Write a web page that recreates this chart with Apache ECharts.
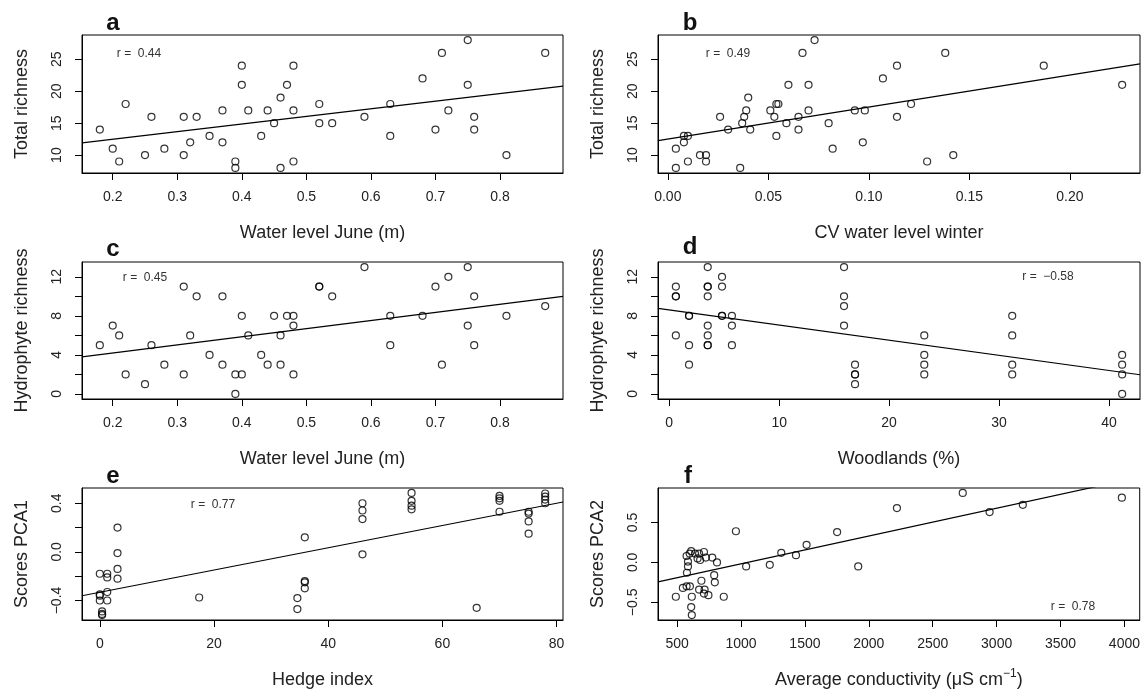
<!DOCTYPE html>
<html><head><meta charset="utf-8">
<script src="https://cdn.jsdelivr.net/npm/echarts@6/dist/echarts.min.js"></script>
<style>html,body{margin:0;padding:0;background:#fff}#c{width:1143px;height:693px}</style>
</head><body><div id="c"></div>
<script>
// ---- Panel a: Water level June vs Total richness
const waterLevelA = [0.18,0.20,0.21,0.22,0.25,0.26,0.28,0.31,0.31,0.32,0.33,0.35,0.37,0.37,0.39,0.39,0.40,0.40,0.41,0.43,0.44,0.45,0.46,0.46,0.47,0.48,0.48,0.48,0.52,0.52,0.54,0.59,0.63,0.63,0.68,0.70,0.71,0.72,0.75,0.75,0.76,0.76,0.81,0.87];
const totalRichA  = [14,11,9,18,10,16,11,16,10,12,16,13,17,12,9,8,24,21,17,13,17,15,19,8,21,24,17,9,18,15,15,16,18,13,22,14,26,17,28,21,16,14,10,26];
// ---- Panel b: CV water level winter vs Total richness
const cvWinterB   = [0.004,0.004,0.008,0.010,0.008,0.010,0.016,0.019,0.019,0.026,0.030,0.036,0.037,0.038,0.039,0.040,0.041,0.051,0.053,0.054,0.054,0.055,0.059,0.060,0.065,0.065,0.067,0.070,0.070,0.073,0.080,0.082,0.093,0.098,0.097,0.107,0.114,0.114,0.121,0.129,0.138,0.142,0.187,0.226];
const totalRichB  = [11,8,13,13,12,9,10,10,9,16,14,8,15,16,17,19,14,17,16,13,18,18,15,21,14,16,26,21,17,28,15,11,17,17,12,22,24,16,18,9,26,10,24,21];
// ---- Panel c: Water level June vs Hydrophyte richness
const waterLevelC = [0.18,0.20,0.21,0.22,0.25,0.26,0.28,0.31,0.31,0.32,0.33,0.35,0.37,0.37,0.39,0.39,0.40,0.40,0.41,0.43,0.44,0.45,0.46,0.46,0.47,0.48,0.48,0.48,0.52,0.52,0.54,0.59,0.63,0.63,0.68,0.70,0.71,0.72,0.75,0.75,0.76,0.76,0.81,0.87];
const hydroRichC  = [5,7,6,2,1,5,3,11,2,6,10,4,10,3,2,0,2,8,6,4,3,8,6,3,8,8,7,2,11,11,10,13,8,5,8,11,3,12,13,7,10,5,8,9];
// ---- Panel d: Woodlands (%) vs Hydrophyte richness
const woodlandsD  = [0.6,0.6,0.6,0.6, 1.8,1.8,1.8,1.8, 3.5,3.5,3.5,3.5,3.5,3.5,3.5,3.5, 4.8,4.8,4.8,4.8, 5.7,5.7,5.7, 15.9,15.9,15.9,15.9, 16.9,16.9,16.9,16.9, 23.2,23.2,23.2,23.2, 31.2,31.2,31.2,31.2, 41.2,41.2,41.2,41.2];
const hydroRichD  = [11,10,10,6, 8,8,5,3, 13,11,11,10,7,6,5,5, 12,11,8,8, 8,7,5, 13,10,9,7, 3,2,2,1, 6,4,3,2, 8,6,3,2, 4,3,2,0];
// ---- Panel e: Hedge index vs Scores PCA1
const hedgeE      = [0,0,0,0, 0.4,0.4,0.4, 1.3,1.3,1.3,1.3, 3.1,3.1,3.1,3.1, 17.4, 34.6,34.6, 35.9,35.9,35.9,35.9, 46,46,46,46, 54.6,54.6,54.6,54.6, 66, 70,70,70,70, 75.1,75.1,75.1,75.1, 78,78,78,78];
const pca1E       = [-0.18,-0.35,-0.36,-0.40, -0.49,-0.51,-0.52, -0.18,-0.21,-0.33,-0.40, 0.20,-0.01,-0.14,-0.22, -0.375, -0.38,-0.47, 0.12,-0.24,-0.25,-0.30, 0.40,0.34,0.27,-0.02, 0.485,0.42,0.38,0.35, -0.46, 0.46,0.44,0.42,0.33, 0.33,0.315,0.25,0.15, 0.48,0.455,0.43,0.40];
// ---- Panel f: Average conductivity vs Scores PCA2
const conductF    = [490,545,574,600,574,585,585,577,598,610,640,660,680,672,710,725,775,812,690,790,795,672,715,710,745,615,610,615,865,960,1040,1225,1315,1430,1513,1752,1917,2220,2735,2945,3205,3980];
const pca2F       = [-0.43,-0.32,-0.30,-0.30,0.08,0.01,-0.05,-0.13,0.11,0.14,0.11,0.05,0.03,0.11,0.13,0.06,0.06,0.0,-0.23,-0.16,-0.25,-0.34,-0.34,-0.39,-0.41,-0.43,-0.56,-0.66,-0.43,0.39,-0.05,-0.03,0.12,0.09,0.22,0.38,-0.05,0.68,0.87,0.63,0.72,0.81];

// fitted lines (intercept, slope) and r values as printed
const fitIntercepts = [10.08, 12.5, 2.535, 8.60, -0.332, -0.366];
const fitSlopes     = [11.95, 50.2, 8.32, -0.1549, 0.00915, 0.000348];
const rLabels       = ['r =  0.44','r =  0.49','r =  0.45','r =  \u22120.58','r =  0.77','r =  0.78'];
const panelLetters  = ['a','b','c','d','e','f'];

// tick values
const xTicksA = [0.2,0.3,0.4,0.5,0.6,0.7,0.8];
const xTicksB = [0,0.05,0.10,0.15,0.20];
const xTicksD = [0,10,20,30,40];
const xTicksE = [0,20,40,60,80];
const xTicksF = [500,1000,1500,2000,2500,3000,3500,4000];
const yTicksRich = [10,15,20,25];
const yTicksHydro = [0,2,4,6,8,10,12];
const yLabelsHydro = [0,4,8,12];
const yTicksE = [-0.4,-0.2,0,0.2,0.4];
const yLabelsE = [-0.4,0,0.4];
const yTicksF = [-0.5,0,0.5];

const xNames = ['Water level June (m)','CV water level winter','Water level June (m)','Woodlands (%)','Hedge index','Average conductivity (\u03bcS cm{sup|\u22121})'];
const yNames = ['Total richness','Total richness','Hydrophyte richness','Hydrophyte richness','Scores PCA1','Scores PCA2'];

const FONT = 'Liberation Sans, Arial, Helvetica, sans-serif';
const fmtMinus = d => v => { const s = v.toFixed(d); return s.replace('-', '\u2212'); };

const panels = [
  {x: waterLevelA, y: totalRichA, xt: xTicksA, xl: xTicksA, yt: yTicksRich, yl: yTicksRich, xf: fmtMinus(1), yf: fmtMinus(0)},
  {x: cvWinterB,   y: totalRichB, xt: xTicksB, xl: xTicksB, yt: yTicksRich, yl: yTicksRich, xf: fmtMinus(2), yf: fmtMinus(0)},
  {x: waterLevelC, y: hydroRichC, xt: xTicksA, xl: xTicksA, yt: yTicksHydro, yl: yLabelsHydro, xf: fmtMinus(1), yf: fmtMinus(0)},
  {x: woodlandsD,  y: hydroRichD, xt: xTicksD, xl: xTicksD, yt: yTicksHydro, yl: yLabelsHydro, xf: fmtMinus(0), yf: fmtMinus(0)},
  {x: hedgeE,      y: pca1E,      xt: xTicksE, xl: xTicksE, yt: yTicksE, yl: yLabelsE, xf: fmtMinus(0), yf: fmtMinus(1)},
  {x: conductF,    y: pca2F,      xt: xTicksF, xl: xTicksF, yt: yTicksF, yl: yTicksF, xf: fmtMinus(0), yf: fmtMinus(1)}
];

// layout (pixels)
const gridBoxes = [
  {left: 82,  top: 35,  width: 481, height: 138},
  {left: 658, top: 35,  width: 482, height: 138},
  {left: 82,  top: 262, width: 481, height: 137},
  {left: 658, top: 262, width: 482, height: 137},
  {left: 82,  top: 488, width: 481, height: 136},
  {left: 658, top: 488, width: 482, height: 136}
];
const rPos = [[139,54],[728,54],[145,278],[1048,277],[213,505],[1073,607]];
const letterPos = [[113,23],[690,23],[113,249],[690,247],[113,476],[688,476]];
const TICK_LEN = 7;

function rRange(arr){
  const mn = Math.min(...arr), mx = Math.max(...arr), pad = (mx - mn) * 0.04;
  return [mn - pad, mx + pad];
}

const grids = [], xAxes = [], yAxes = [], series = [], graphics = [];
panels.forEach((p, i) => {
  grids.push(Object.assign({show: true, borderColor: '#000', borderWidth: 1, backgroundColor: 'transparent', containLabel: false}, gridBoxes[i]));
  const xr = rRange(p.x), yr = rRange(p.y);
  xAxes.push({
    type: 'value', gridIndex: i, min: xr[0], max: xr[1], position: 'bottom',
    splitLine: {show: false},
    axisLine: {show: true, onZero: false, lineStyle: {color: '#000', width: 1}},
    axisTick: {show: true, inside: false, length: TICK_LEN, customValues: p.xt, lineStyle: {color: '#000', width: 1}},
    axisLabel: {show: true, customValues: p.xl, formatter: p.xf, margin: 17, fontSize: 14, color: '#222', fontFamily: FONT},
    name: xNames[i], nameLocation: 'middle', nameGap: 48,
    nameTextStyle: {fontSize: 18, color: '#222', fontFamily: FONT, lineHeight: 24,
      rich: {sup: {fontSize: 12, fontFamily: FONT, color: '#222', verticalAlign: 'top', lineHeight: 12, padding: [0,0,10,0]}}}
  });
  yAxes.push({
    type: 'value', gridIndex: i, min: yr[0], max: yr[1], position: 'left',
    splitLine: {show: false},
    axisLine: {show: true, onZero: false, lineStyle: {color: '#000', width: 1}},
    axisTick: {show: true, inside: false, length: TICK_LEN, customValues: p.yt, lineStyle: {color: '#000', width: 1}},
    axisLabel: {show: true, customValues: p.yl, formatter: p.yf, rotate: 90, margin: 18, fontSize: 14, color: '#222', fontFamily: FONT},
    name: yNames[i], nameLocation: 'middle', nameGap: 51,
    nameTextStyle: {fontSize: 18, color: '#222', fontFamily: FONT}
  });
  series.push({
    type: 'scatter', xAxisIndex: i, yAxisIndex: i,
    data: p.x.map((v, k) => [v, p.y[k]]),
    symbol: 'circle', symbolSize: 7,
    itemStyle: {color: 'rgba(0,0,0,0)', borderColor: '#000', borderWidth: 1.2},
    silent: true, z: 3
  });
  series.push({
    type: 'line', xAxisIndex: i, yAxisIndex: i,
    data: [[xr[0], fitIntercepts[i] + fitSlopes[i] * xr[0]], [xr[1], fitIntercepts[i] + fitSlopes[i] * xr[1]]],
    showSymbol: false, symbol: 'none', clip: true, silent: true,
    lineStyle: {color: '#000', width: 1.2}, z: 2
  });
  graphics.push({type: 'text', x: rPos[i][0], y: rPos[i][1],
    style: {text: rLabels[i], fill: '#333', font: '12px ' + FONT, textAlign: 'center', textVerticalAlign: 'middle'}});
  graphics.push({type: 'text', x: letterPos[i][0], y: letterPos[i][1],
    style: {text: panelLetters[i], fill: '#111', font: 'bold 24px ' + FONT, textAlign: 'center', textVerticalAlign: 'middle'}});
});

const chart = echarts.init(document.getElementById('c'), null, {renderer: 'canvas'});
chart.setOption({
  backgroundColor: '#fff',
  animation: false,
  grid: grids, xAxis: xAxes, yAxis: yAxes, series: series, graphic: graphics
});
</script></body></html>
